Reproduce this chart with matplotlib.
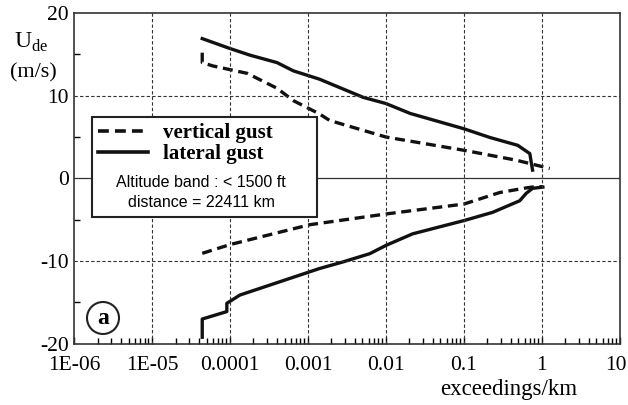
import numpy as np
import matplotlib
matplotlib.use('Agg')
import matplotlib.pyplot as plt
import matplotlib.transforms as mtransforms
from matplotlib.lines import Line2D
from matplotlib.patches import Circle

plt.rcParams['font.family'] = ['Liberation Serif', 'DejaVu Serif']
plt.rcParams['mathtext.fontset'] = 'custom'
plt.rcParams['mathtext.rm'] = 'Liberation Serif'

# vertical gust, positive side
vert_up_x = [4.4e-5, 4.4e-5, 6e-5, 1.66e-4, 4e-4, 6.5e-4, 1.4e-3, 1.9e-3, 0.01, 0.1, 0.47, 1.26]
vert_up_y = [15.2, 14.0, 13.6, 12.7, 10.9, 9.4, 7.8, 7.0, 5.0, 3.4, 2.2, 1.2]
# vertical gust, negative side
vert_dn_x = [4.4e-5, 1e-4, 1.05e-3, 0.01, 0.1, 0.29, 0.63, 0.75, 1.03]
vert_dn_y = [-9.06, -8.0, -5.6, -4.3, -3.1, -1.7, -1.15, -1.05, -1.0]
# lateral gust, positive side
lat_up_x = [4.4e-5, 1e-4, 1.8e-4, 4e-4, 6.5e-4, 1.4e-3, 5.1e-3, 0.01, 0.0205, 0.1, 0.215, 0.49, 0.70, 0.76]
lat_up_y = [16.9, 15.7, 14.9, 14.0, 13.0, 12.0, 9.8, 9.05, 7.85, 6.0, 4.95, 4.0, 3.0, 1.0]
# lateral gust, negative side
lat_dn_x = [4.4e-5, 4.4e-5, 9.1e-5, 9.1e-5, 1.34e-4, 1.4e-3, 2.8e-3, 6.2e-3, 0.01, 0.022, 0.1, 0.234, 0.52, 0.63, 0.76, 1.03]
lat_dn_y = [-19.2, -17.0, -16.1, -15.1, -14.1, -10.9, -10.1, -9.1, -8.1, -6.7, -5.1, -4.1, -2.7, -1.8, -1.2, -1.05]

x_ticks = [1e-6, 1e-5, 1e-4, 1e-3, 1e-2, 1e-1, 1, 10]
x_labels = ['1E-06', '1E-05', '0.0001', '0.001', '0.01', '0.1', '1', '10']
y_ticks = [-20, -10, 0, 10, 20]
y_labels = ['-20', '-10', '0', '10', '20']

fig = plt.figure(figsize=(6.28, 4.05), dpi=100)
ax = fig.add_axes([0.118, 0.151, 0.869, 0.817])

dash = (0, (3.0, 1.7))
ax.plot(vert_up_x, vert_up_y, color='#111111', lw=2.4, linestyle=dash)
ax.plot(vert_dn_x, vert_dn_y, color='#111111', lw=2.4, linestyle=dash)
ax.plot(lat_up_x, lat_up_y, color='#111111', lw=2.4)
ax.plot(lat_dn_x, lat_dn_y, color='#111111', lw=2.4)

ax.set_xscale('log')
ax.set_xlim(1e-6, 10)
ax.set_ylim(-20, 20)
ax.set_xticks(x_ticks)
ax.set_xticklabels(x_labels)
ax.set_yticks(y_ticks)
ax.set_yticklabels(y_labels)
ax.set_yticks([-15, -5, 5, 15], minor=True)
ax.xaxis.set_minor_locator(matplotlib.ticker.LogLocator(base=10, subs=np.arange(2, 10)))
ax.xaxis.set_minor_formatter(matplotlib.ticker.NullFormatter())
ax.tick_params(axis='both', which='both', direction='in', labelsize=15.5, top=False, right=False, width=1)
ax.tick_params(axis='y', which='major', length=0, pad=4)
ax.tick_params(axis='x', which='major', length=5, pad=9)
ax.tick_params(axis='both', which='minor', length=4)

# keep the last tick label inside the figure
last = ax.get_xticklabels()[-1]
last.set_transform(last.get_transform() + mtransforms.ScaledTranslation(-4 / 100, 0, fig.dpi_scale_trans))

for xv in x_ticks[1:-1]:
    ax.axvline(xv, color='#333333', lw=0.8, linestyle=(0, (3, 2)))
for yv in [-10, 10]:
    ax.axhline(yv, color='#333333', lw=0.8, linestyle=(0, (3, 2)))
ax.axhline(0, color='#333333', lw=0.9)

for s in ax.spines.values():
    s.set_linewidth(1.2)
    s.set_color('#333333')

ax.set_xlabel('exceedings/km', fontsize=16.5)
ax.xaxis.set_label_coords(0.797, -0.105)

fig.text(0.022, 0.895, 'U$_{\\rm de}$', fontsize=17, ha='left', va='center')
fig.text(0.053, 0.82, '(m/s)', fontsize=16, ha='center', va='center')

# legend box
ax.add_patch(plt.Rectangle((0.033, 0.384), 0.412, 0.302, transform=ax.transAxes,
                           fill=True, facecolor='white', edgecolor='#222222', lw=1.5, zorder=4))
leg_handles = [Line2D([0], [0], color='#111111', lw=2.6, linestyle=(0, (3.0, 1.7))),
               Line2D([0], [0], color='#111111', lw=2.6)]
leg = ax.legend(leg_handles, ['vertical gust', 'lateral gust'], loc='upper left',
                bbox_to_anchor=(0.035, 0.683), frameon=False,
                prop={'weight': 'bold', 'size': 15}, handlelength=2.4, handletextpad=0.7,
                borderpad=0.25, labelspacing=0.05, borderaxespad=0)
leg.set_zorder(5)
ax.text(0.233, 0.489, 'Altitude band : < 1500 ft', transform=ax.transAxes, ha='center', va='center',
        fontsize=11.5, family=['Liberation Sans Narrow', 'Liberation Sans'], zorder=6)
ax.text(0.233, 0.427, 'distance = 22411 km', transform=ax.transAxes, ha='center', va='center',
        fontsize=11.5, family=['Liberation Sans Narrow', 'Liberation Sans'], zorder=6)

# panel marker
fig.patches.append(Circle((103, 405 - 318), 16, transform=None, fill=False, edgecolor='#222222', lw=1.5))
fig.text(103 / 628, 1 - 319 / 405, 'a', fontsize=17, weight='bold', ha='center', va='center')

fig.savefig('out.png', dpi=100)
